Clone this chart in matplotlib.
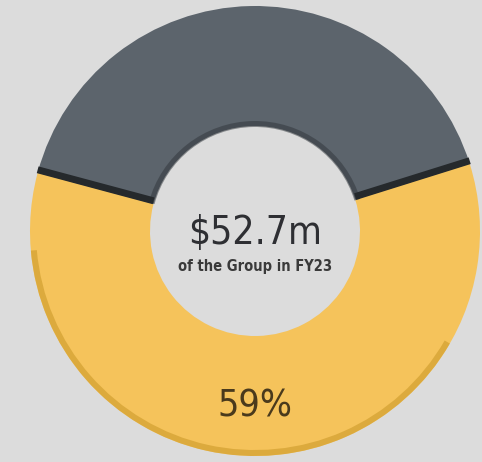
import numpy as np
import matplotlib.pyplot as plt
from matplotlib.patches import Wedge

# segment shares (%)
labels = ['Group share', 'Rest']
shares = [59, 41]
colors = ['#f5c35b', '#5c646c']
total_label = '$52.7m'
sub_label = 'of the Group in FY23'

bg = '#dcdcdc'
cx, cy = 255, 231
r_out, r_in = 225, 105

fig = plt.figure(figsize=(4.82, 4.62), dpi=100, facecolor=bg)
ax = fig.add_axes([0, 0, 1, 1])
ax.set_facecolor(bg)

start = 165
wedges, _ = ax.pie(shares, colors=colors, startangle=start, counterclock=True,
                   radius=r_out, center=(cx, cy),
                   wedgeprops=dict(width=r_out - r_in, linewidth=0))
ax.set_xlim(0, 482)
ax.set_ylim(0, 462)
ax.set_aspect('equal')
ax.axis('off')

# bevel / shading hints
ang_end = start + shares[0] / sum(shares) * 360
ax.add_patch(Wedge((cx, cy), r_out, 185, 330, width=6, color='#d4a233', lw=0, alpha=0.75))
ax.add_patch(Wedge((cx, cy), r_in + 5, start + 360 - 148, start + 360, width=6,
                   color='#2f3439', lw=0, alpha=0.5))
for a in [start, ang_end]:
    t = np.deg2rad(a)
    ax.plot([cx + r_in * np.cos(t), cx + r_out * np.cos(t)],
            [cy + r_in * np.sin(t) + 3, cy + r_out * np.sin(t) + 3],
            color='#25292c', lw=5, solid_capstyle='butt')

font = ['DejaVu Sans']
ax.text(cx, cy - 2, total_label, ha='center', va='center', fontsize=28,
        fontstretch='condensed', color='#2e2f33', family=font)
ax.text(cx, cy - 36, sub_label, ha='center', va='center', fontsize=10.5,
        fontweight='bold', fontstretch='condensed', color='#3a3a3a', family=font)

# percentage label in the yellow segment
mid = np.deg2rad(start + shares[0] / sum(shares) * 180)
ax.text(cx + 0.77 * r_out * np.cos(mid) - 4, cy + 0.77 * r_out * np.sin(mid) - 2,
        f'{shares[0]}%', ha='center', va='center', fontsize=27,
        fontstretch='condensed', color='#4a3a1c', family=font)

fig.savefig('out.png', dpi=100, facecolor=bg)
